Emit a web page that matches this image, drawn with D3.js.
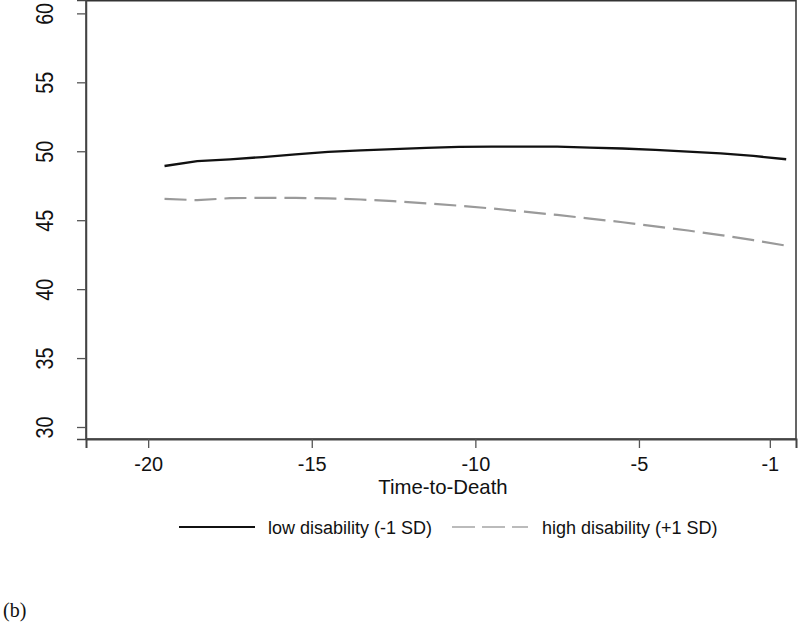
<!DOCTYPE html>
<html>
<head>
<meta charset="utf-8">
<script src="https://cdn.jsdelivr.net/npm/d3@7"></script>
<style>
  html, body { margin: 0; padding: 0; background: #fff; }
  svg { display: block; }
  text { font-family: Arial, "Liberation Sans", Helvetica, sans-serif; fill: #111; }
</style>
</head>
<body>
<svg id="chart" width="800" height="625"></svg>
<script>
// ---- data ----
const timeToDeath = [-19.5, -18.5, -17.5, -16.5, -15.5, -14.5, -13.5, -12.5, -11.5, -10.5,
                     -9.5, -8.5, -7.5, -6.5, -5.5, -4.5, -3.5, -2.5, -1.5, -0.5];
const lowDisability = [48.93, 49.29, 49.41, 49.58, 49.78, 49.95, 50.06, 50.16, 50.24, 50.32,
                       50.34, 50.34, 50.33, 50.27, 50.2, 50.1, 49.98, 49.85, 49.66, 49.42];
const highDisability = [46.55, 46.45, 46.6, 46.62, 46.62, 46.58, 46.5, 46.38, 46.22, 46.05,
                        45.85, 45.62, 45.38, 45.12, 44.85, 44.55, 44.25, 43.92, 43.55, 43.15];
const xTickValues = [-20, -15, -10, -5, -1];
const yTickValues = [30, 35, 40, 45, 50, 55, 60];
const seriesNames = ["low disability (-1 SD)", "high disability (+1 SD)"];
const xTitle = "Time-to-Death";
const panelLabel = "(b)";

// ---- layout ----
const svg = d3.select("#chart");
const plot = { left: 86, right: 796, top: 0.75, bottom: 439 };

const x = d3.scaleLinear().domain([-21.9, -0.2]).range([plot.left, plot.right]);
const y = d3.scaleLinear().domain([29.13, 60.97]).range([plot.bottom, 0]);
const plainFormat = d => String(d);  // ASCII hyphen-minus as in the reference

function condense(sel, factor) {
  sel.each(function () {
    const w = this.getComputedTextLength();
    this.setAttribute("textLength", (w * factor).toFixed(1));
    this.setAttribute("lengthAdjust", "spacingAndGlyphs");
  });
}

// plot frame
svg.append("rect")
  .attr("x", plot.left).attr("y", plot.top)
  .attr("width", plot.right - plot.left)
  .attr("height", plot.bottom - plot.top)
  .attr("fill", "none").attr("stroke", "#333").attr("stroke-width", 1.5);

// x axis
const gx = svg.append("g")
  .attr("transform", `translate(0,${plot.bottom})`)
  .call(d3.axisBottom(x).tickValues(xTickValues).tickSize(9).tickFormat(plainFormat));
gx.select(".domain").attr("stroke", "#444").attr("stroke-width", 2);
gx.selectAll(".tick line").attr("stroke", "#555").attr("stroke-width", 1.3);
gx.selectAll(".tick text")
  .attr("y", 32).attr("dy", 0)
  .style("font-size", "20.5px").style("font-family", "Arial, 'Liberation Sans', sans-serif")
  .attr("fill", "#111");
condense(gx.selectAll(".tick text"), 0.97);

// y axis
const gy = svg.append("g")
  .attr("transform", `translate(${plot.left},0)`)
  .call(d3.axisLeft(y).tickValues(yTickValues).tickSize(9).tickFormat(plainFormat));
gy.select(".domain").attr("stroke", "#444").attr("stroke-width", 1.5);
gy.selectAll(".tick line").attr("stroke", "#555").attr("stroke-width", 1.3);
gy.selectAll(".tick text")
  .attr("x", null).attr("dy", 0)
  .attr("text-anchor", "middle")
  .attr("transform", "translate(-33,0) rotate(-90)")
  .style("font-size", "23px").style("font-family", "Arial, 'Liberation Sans', sans-serif")
  .attr("fill", "#111");
condense(gy.selectAll(".tick text"), 0.86);

// x title
const xt = svg.append("text")
  .attr("x", (plot.left + plot.right) / 2 + 2)
  .attr("y", 494)
  .attr("text-anchor", "middle")
  .style("font-size", "21px")
  .text(xTitle);
condense(xt, 0.97);

// lines
const lineGen = d3.line().x(d => x(d[0])).y(d => y(d[1]));
const lowPts = timeToDeath.map((t, i) => [t, lowDisability[i]]);
const highPts = timeToDeath.map((t, i) => [t, highDisability[i]]);

svg.append("path")
  .datum(highPts)
  .attr("d", lineGen)
  .attr("fill", "none")
  .attr("stroke", "#9a9a9a")
  .attr("stroke-width", 2.2)
  .attr("stroke-dasharray", "22,8");

svg.append("path")
  .datum(lowPts)
  .attr("d", lineGen)
  .attr("fill", "none")
  .attr("stroke", "#111")
  .attr("stroke-width", 2.3);

// legend
const legendY = 527;
const legendItems = [
  { name: seriesNames[0], x1: 179, x2: 255, tx: 268, color: "#111", dash: null, w: 1.8 },
  { name: seriesNames[1], x1: 452, x2: 528, tx: 542, color: "#a5a5a5", dash: "23,7", w: 1.6 }
];
legendItems.forEach(it => {
  svg.append("line")
    .attr("x1", it.x1).attr("x2", it.x2)
    .attr("y1", legendY).attr("y2", legendY)
    .attr("stroke", it.color).attr("stroke-width", it.w)
    .attr("stroke-dasharray", it.dash);
  svg.append("text")
    .attr("x", it.tx).attr("y", 534.3)
    .style("font-size", "18px")
    .text(it.name);
});

// panel label
svg.append("text")
  .attr("x", 3).attr("y", 616.5)
  .style("font-family", "'Liberation Serif', 'Times New Roman', serif")
  .style("font-size", "20px")
  .text(panelLabel);
</script>
</body>
</html>
